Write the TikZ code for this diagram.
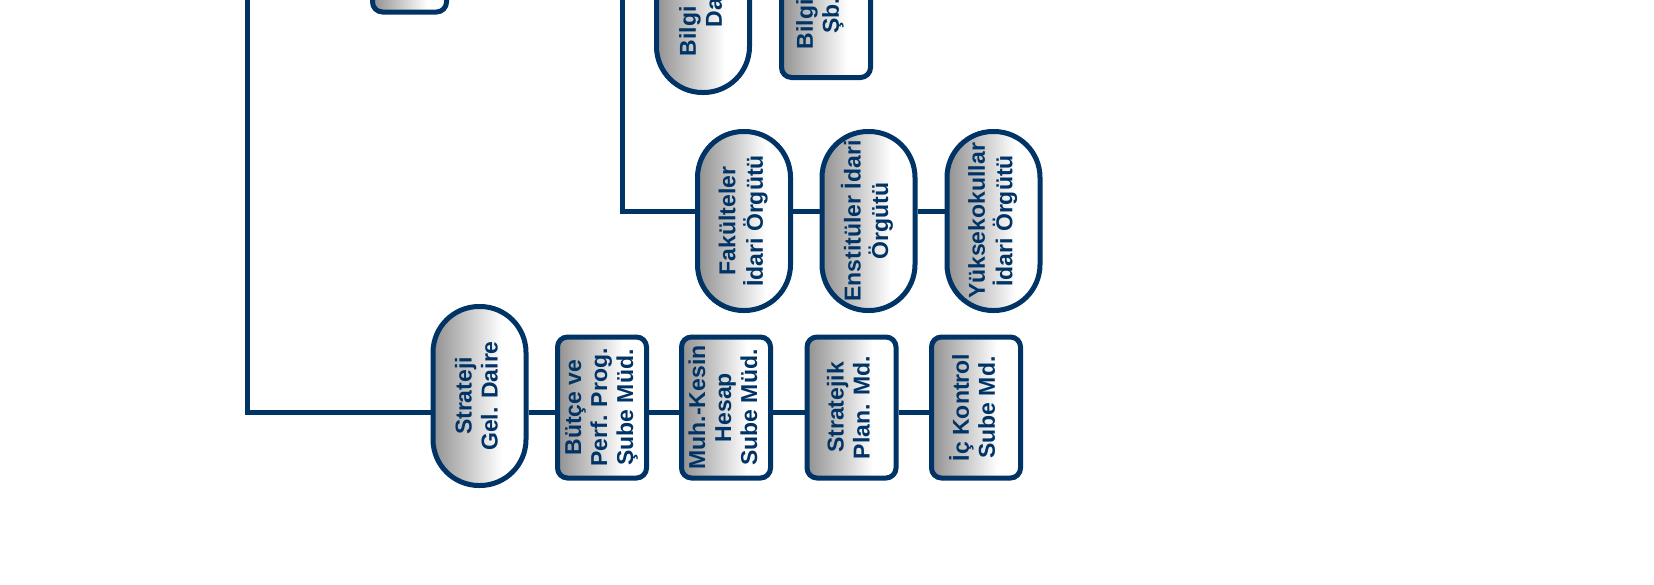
\documentclass[tikz,border=0pt]{standalone}
\usepackage{fontspec}
\usepackage{graphicx}
\setmainfont{Liberation Sans}
\definecolor{dblue}{RGB}{0,51,102}
\definecolor{ngray}{RGB}{145,145,145}
\pgfdeclarehorizontalshading{nodeshade}{100bp}{color(0bp)=(ngray); color(25bp)=(ngray); color(62bp)=(white); color(100bp)=(white)}
\newcommand{\vtext}[1]{\rotatebox{90}{\begin{tabular}{@{}c@{}}#1\end{tabular}}}
\tikzset{
  box/.style={draw=dblue, line width=5pt, shade, shading=nodeshade, inner sep=0pt, text=dblue, font=\fontsize{23}{26}\selectfont\bfseries},
  pill/.style={box, minimum width=93pt, minimum height=179pt, rounded corners=46pt},
  rbox/.style={box, minimum width=89pt, minimum height=141pt, rounded corners=10pt},
  conn/.style={draw=dblue, line width=5pt}
}
\begin{document}
\begin{tikzpicture}[x=1pt,y=-1pt]
\useasboundingbox (0,0) rectangle (1654,584);
\coordinate (rowA) at (0,211);
\coordinate (rowB) at (0,412);
\coordinate (topA) at (247,-4);
\coordinate (topB) at (622,-4);
% top (cut) nodes
\node[rbox, minimum width=74pt] (topbox) at (409.5,-58.5) {};
\node[pill, minimum height=188pt] (bilgid) at (703,-1.5) {\vtext{Bilgi İşlem\\Daire}};
\node[rbox, minimum height=172pt] (bilgis) at (826,-8.5) {\hspace*{-12pt}\vtext{Bilgi İşlem\\Şb. Md.}};
% middle row
\node[pill] (fak) at (744,221) {\vtext{Fakülteler\\İdari Örgütü}};
\node[pill] (enst) at (868.5,221) {\vtext{Enstitüler İdari\\Örgütü}};
\node[pill] (yuk) at (993.5,221) {\vtext{Yüksekokullar\\İdari Örgütü}};
% bottom row
\node[pill] (strat) at (479.5,396) {\vtext{Strateji\\Gel. Daire}};
\node[rbox] (butce) at (602,407.5) {\vtext{Bütçe ve\\Perf. Prog.\\Şube Müd.}};
\node[rbox] (muh) at (726,407.5) {\vtext{Muh.-Kesin\\Hesap\\Sube Müd.}};
\node[rbox] (splan) at (851.5,407.5) {\vtext{Stratejik\\Plan. Md.}};
\node[rbox] (ick) at (976,407.5) {\vtext{İç Kontrol\\Sube Md.}};
% connectors
\draw[conn] (topA) |- (strat.west |- rowB);
\draw[conn] (strat.east |- rowB) -- (butce.west |- rowB);
\draw[conn] (butce.east |- rowB) -- (muh.west |- rowB);
\draw[conn] (muh.east |- rowB) -- (splan.west |- rowB);
\draw[conn] (splan.east |- rowB) -- (ick.west |- rowB);
\draw[conn] (topB) |- (fak.west |- rowA);
\draw[conn] (fak.east |- rowA) -- (enst.west |- rowA);
\draw[conn] (enst.east |- rowA) -- (yuk.west |- rowA);
\end{tikzpicture}
\end{document}
